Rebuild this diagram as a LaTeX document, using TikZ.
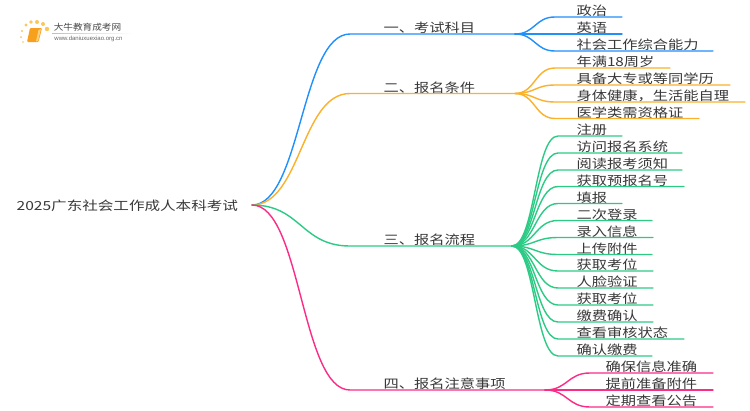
\documentclass[tikz,border=0pt]{standalone}
\usepackage{fontspec}
\setmainfont{Noto Sans CJK SC}
\setsansfont{Liberation Sans}
\usetikzlibrary{calc}
\tikzset{
  lbl/.style={anchor=west,inner sep=0pt,text=black!78,font=\fontsize{12.5}{14}\selectfont,text height=10.5pt,text depth=1.5pt},
  conn/.style={line width=1.4pt,line cap=round},
}
\definecolor{cblue}{HTML}{2090FA}
\definecolor{corange}{HTML}{FBB12A}
\definecolor{cgreen}{HTML}{2CCB85}
\definecolor{cpink}{HTML}{FB2C86}
\definecolor{clogo}{HTML}{F6A01E}
\definecolor{cdot}{HTML}{FBC65A}
\newcommand{\wdn}[1]{\scalebox{1.22}[1]{#1}}
% \leaf{name}{hub}{colour}{startx}{y}{endx}{textx}{text}
\newcommand{\leaf}[8]{%
  \coordinate (#1s) at (#4,#5);
  \coordinate (#1e) at (#6,#5);
  \coordinate (#1m) at ($(#2)!0.5!(#1s)$);
  \node[lbl] (#1) at (#7-0.7,#5-6) {\wdn{#8}};
  \draw[conn,#3] (#2) .. controls (#1m |- #2) and (#1m |- #1s) .. (#1s) -- (#1e);
}
\begin{document}
\begin{tikzpicture}[x=1pt,y=-1pt]
\useasboundingbox (0,0) rectangle (750,410);
\fill[white] (0,0) rectangle (750,410);
% logo
\foreach \px/\py/\r in {26/25/1.7,31/22/1.9,37/22/2.0,43/24/2.0,47/29/2.2,22/31/1.2,21/37/1.0,23/42/.9}{\fill[cdot] (\px,\py) circle (\r);}
\fill[clogo,rounded corners=1pt] (30,28) -- (42,28) -- (38.5,42) -- (27,42) -- cycle;
\fill[corange!60!white] (38.5,30) -- (41,29) -- (38,41) -- (36,41.5) -- cycle;
\node[inner sep=0pt,text=black!72] (logotitle) at (87.5,27) {\fontsize{8.6}{10}\selectfont\scalebox{1.12}[1]{大牛教育成考网}};
\node[inner sep=0pt,text=black!60] (logourl) at (88.5,38.7) {\sffamily\fontsize{6}{7}\selectfont www.daniuxuexiao.org.cn};
\shade[left color=black!25,right color=white] (52,33) rectangle (133,33.5);
% root
\node[lbl] (root) at (16.5,206) {\scalebox{1.245}[1]{2025广东社会工作成人本科考试}};
\coordinate (r) at (252,205);
% branches
\coordinate (b1s) at (350,34);\coordinate (b1) at (515,34);
\coordinate (b2s) at (350,93.5);\coordinate (b2) at (515,93.5);
\coordinate (b3s) at (350,246);\coordinate (b3) at (512,246);
\coordinate (b4s) at (350,390);\coordinate (b4) at (545,390);
\draw[conn,cblue] (r) .. controls (301,205) and (301,34) .. (b1s) -- (b1);
\draw[conn,corange] (r) .. controls (301,205) and (301,93.5) .. (b2s) -- (b2);
\draw[conn,cgreen] (r) .. controls (301,205) and (301,246) .. (b3s) -- (b3);
\draw[conn,cpink] (r) .. controls (301,205) and (301,390) .. (b4s) -- (b4);
\node[lbl] (t1) at (383.5,28) {\wdn{一、考试科目}};
\node[lbl] (t2) at (383.5,87.5) {\wdn{二、报名条件}};
\node[lbl] (t3) at (383.5,240) {\wdn{三、报名流程}};
\node[lbl] (t4) at (383.5,384) {\wdn{四、报名注意事项}};
% leaves
\leaf{a1}{b1}{cblue}{555}{17}{622}{577}{政治}
\leaf{a2}{b1}{cblue}{555}{34}{622}{577}{英语}
\leaf{a3}{b1}{cblue}{555}{51}{713}{577}{社会工作综合能力}
\leaf{o1}{b2}{corange}{555}{68}{670}{577}{年满18周岁}
\leaf{o2}{b2}{corange}{555}{85}{730}{577}{具备大专或等同学历}
\leaf{o3}{b2}{corange}{555}{102}{745}{577}{身体健康，生活能自理}
\leaf{o4}{b2}{corange}{555}{118.5}{699}{577}{医学类需资格证}
\leaf{g1}{b3}{cgreen}{558}{136}{622}{577}{注册}
\leaf{g2}{b3}{cgreen}{558}{153}{682}{577}{访问报名系统}
\leaf{g3}{b3}{cgreen}{558}{170}{682}{577}{阅读报考须知}
\leaf{g4}{b3}{cgreen}{558}{186.5}{684}{577}{获取预报名号}
\leaf{g5}{b3}{cgreen}{558}{203.5}{622}{577}{填报}
\leaf{g6}{b3}{cgreen}{558}{220.5}{652}{577}{二次登录}
\leaf{g7}{b3}{cgreen}{558}{237.5}{653}{577}{录入信息}
\leaf{g8}{b3}{cgreen}{558}{254.5}{652}{577}{上传附件}
\leaf{g9}{b3}{cgreen}{558}{271}{653}{577}{获取考位}
\leaf{g10}{b3}{cgreen}{558}{288}{653}{577}{人脸验证}
\leaf{g11}{b3}{cgreen}{558}{305}{653}{577}{获取考位}
\leaf{g12}{b3}{cgreen}{558}{322}{653}{577}{缴费确认}
\leaf{g13}{b3}{cgreen}{558}{339}{684}{577}{查看审核状态}
\leaf{g14}{b3}{cgreen}{558}{356}{652}{577}{确认缴费}
\leaf{p1}{b4}{cpink}{590}{373}{713}{606}{确保信息准确}
\leaf{p2}{b4}{cpink}{590}{390}{713}{606}{提前准备附件}
\leaf{p3}{b4}{cpink}{590}{407}{713}{606}{定期查看公告}
\end{tikzpicture}
\end{document}
